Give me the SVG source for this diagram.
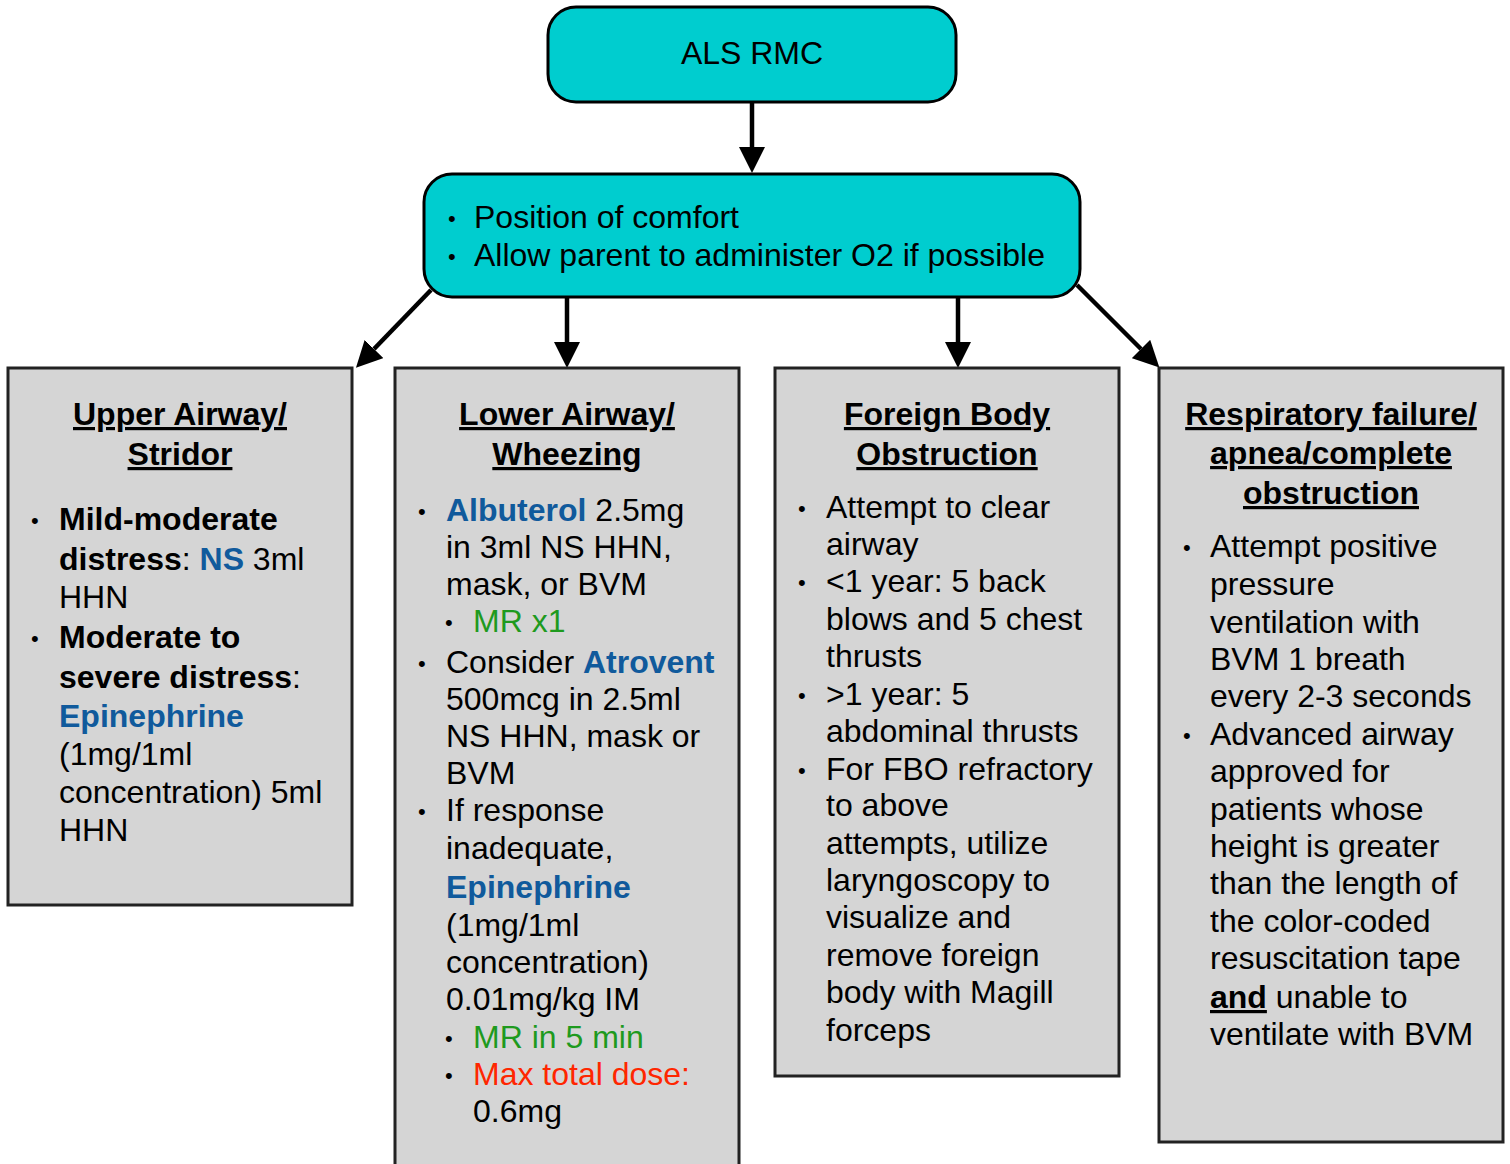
<svg xmlns="http://www.w3.org/2000/svg" width="1510" height="1164" viewBox="0 0 1510 1164">
<defs>
<marker id="ah" markerUnits="userSpaceOnUse" markerWidth="26" markerHeight="26" refX="0" refY="13" orient="auto" viewBox="0 0 26 26">
<path d="M0,0 L26,13 L0,26 z" fill="#000"/>
</marker>
</defs>
<style>
text{font-family:"Liberation Sans",Arial,Helvetica,sans-serif;font-size:32px;fill:#000}
.t{font-weight:bold;text-decoration:underline;text-anchor:middle}
.b{font-weight:bold}
.blue{fill:#105A9C;font-weight:bold}
.green{fill:#1E9A1E}
.red{fill:#FF2600}
.bu{font-size:22px}
.teal{fill:#00CDCF;stroke:#000;stroke-width:3}
.gray{fill:#D5D5D5;stroke:#222;stroke-width:3}
.c{stroke:#000;stroke-width:4.5;fill:none;marker-end:url(#ah)}
</style>

<g id="connectors">
<line class="c" x1="752" y1="102" x2="752" y2="147"/>
<line class="c" x1="431" y1="290" x2="374" y2="349"/>
<line class="c" x1="567" y1="297" x2="567" y2="342"/>
<line class="c" x1="958" y1="297" x2="958" y2="342"/>
<line class="c" x1="1077" y1="285" x2="1141" y2="349"/>
</g>

<g id="node-als">
<rect class="teal" x="548" y="7" width="408" height="95" rx="28"/>
<text x="752" y="64" text-anchor="middle">ALS RMC</text>
</g>

<g id="node-comfort">
<rect class="teal" x="424" y="174" width="656" height="123" rx="28"/>
<text x="448" y="226" class="bu">•</text>
<text x="474" y="228">Position of comfort</text>
<text x="448" y="264" class="bu">•</text>
<text x="474" y="266">Allow parent to administer O2 if possible</text>
</g>

<g id="node-upper">
<rect class="gray" x="8" y="368" width="344" height="537"/>
<text class="t" x="180" y="425">Upper Airway/</text>
<text class="t" x="180" y="465">Stridor</text>
<text x="31" y="528" class="bu">•</text>
<text x="59" y="530" class="b">Mild-moderate</text>
<text x="59" y="570"><tspan class="b">distress</tspan>: <tspan class="blue">NS</tspan> 3ml</text>
<text x="59" y="608">HHN</text>
<text x="31" y="646" class="bu">•</text>
<text x="59" y="648" class="b">Moderate to</text>
<text x="59" y="688"><tspan class="b">severe distress</tspan>:</text>
<text x="59" y="727" class="blue">Epinephrine</text>
<text x="59" y="765">(1mg/1ml</text>
<text x="59" y="803">concentration) 5ml</text>
<text x="59" y="841">HHN</text>
</g>

<g id="node-lower">
<rect class="gray" x="395" y="368" width="344" height="804"/>
<text class="t" x="567" y="425">Lower Airway/</text>
<text class="t" x="567" y="465">Wheezing</text>
<text x="418" y="519" class="bu">•</text>
<text x="446" y="521"><tspan class="blue">Albuterol</tspan> 2.5mg</text>
<text x="446" y="558">in 3ml NS HHN,</text>
<text x="446" y="595">mask, or BVM</text>
<text x="445" y="630" class="bu">•</text>
<text x="473" y="632" class="green">MR x1</text>
<text x="418" y="671" class="bu">•</text>
<text x="446" y="673">Consider <tspan class="blue">Atrovent</tspan></text>
<text x="446" y="710">500mcg in 2.5ml</text>
<text x="446" y="747">NS HHN, mask or</text>
<text x="446" y="784">BVM</text>
<text x="418" y="819" class="bu">•</text>
<text x="446" y="821">If response</text>
<text x="446" y="859">inadequate,</text>
<text x="446" y="898" class="blue">Epinephrine</text>
<text x="446" y="936">(1mg/1ml</text>
<text x="446" y="973">concentration)</text>
<text x="446" y="1010">0.01mg/kg IM</text>
<text x="445" y="1046" class="bu">•</text>
<text x="473" y="1048" class="green">MR in 5 min</text>
<text x="445" y="1083" class="bu">•</text>
<text x="473" y="1085" class="red">Max total dose:</text>
<text x="473" y="1122">0.6mg</text>
</g>

<g id="node-foreign">
<rect class="gray" x="775" y="368" width="344" height="708"/>
<text class="t" x="947" y="425">Foreign Body</text>
<text class="t" x="947" y="465">Obstruction</text>
<text x="798" y="516" class="bu">•</text>
<text x="826" y="518">Attempt to clear</text>
<text x="826" y="555">airway</text>
<text x="798" y="590" class="bu">•</text>
<text x="826" y="592">&lt;1 year: 5 back</text>
<text x="826" y="630">blows and 5 chest</text>
<text x="826" y="667">thrusts</text>
<text x="798" y="703" class="bu">•</text>
<text x="826" y="705">&gt;1 year: 5</text>
<text x="826" y="742">abdominal thrusts</text>
<text x="798" y="778" class="bu">•</text>
<text x="826" y="780">For FBO refractory</text>
<text x="826" y="816">to above</text>
<text x="826" y="854">attempts, utilize</text>
<text x="826" y="891">laryngoscopy to</text>
<text x="826" y="928">visualize and</text>
<text x="826" y="966">remove foreign</text>
<text x="826" y="1003">body with Magill</text>
<text x="826" y="1041">forceps</text>
</g>

<g id="node-resp">
<rect class="gray" x="1159" y="368" width="344" height="774"/>
<text class="t" x="1331" y="425">Respiratory failure/</text>
<text class="t" x="1331" y="464">apnea/complete</text>
<text class="t" x="1331" y="504">obstruction</text>
<text x="1183" y="555" class="bu">•</text>
<text x="1210" y="557">Attempt positive</text>
<text x="1210" y="595">pressure</text>
<text x="1210" y="633">ventilation with</text>
<text x="1210" y="670">BVM 1 breath</text>
<text x="1210" y="707">every 2-3 seconds</text>
<text x="1183" y="743" class="bu">•</text>
<text x="1210" y="745">Advanced airway</text>
<text x="1210" y="782">approved for</text>
<text x="1210" y="820">patients whose</text>
<text x="1210" y="857">height is greater</text>
<text x="1210" y="894">than the length of</text>
<text x="1210" y="932">the color-coded</text>
<text x="1210" y="969">resuscitation tape</text>
<text x="1210" y="1008"><tspan class="b" text-decoration="underline">and</tspan> unable to</text>
<text x="1210" y="1045">ventilate with BVM</text>
</g>
</svg>
